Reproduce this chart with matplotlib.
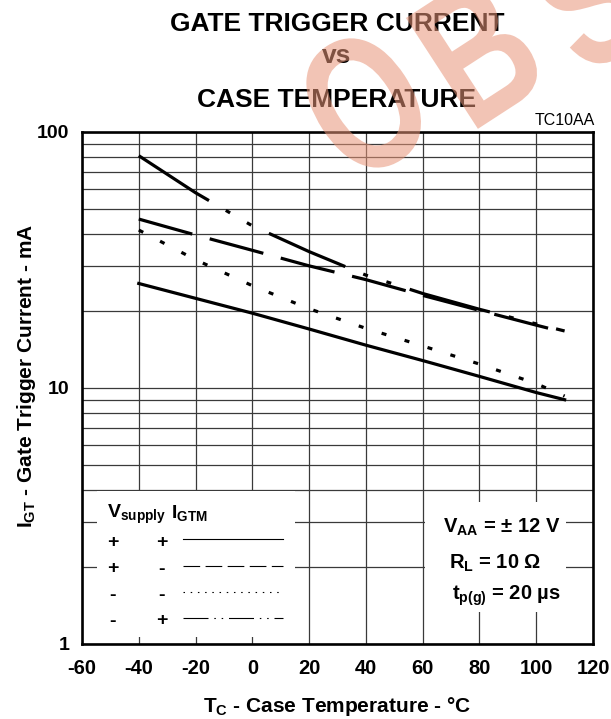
import matplotlib
matplotlib.use('Agg')
import matplotlib.pyplot as plt
from matplotlib.lines import Line2D
from matplotlib.patches import Rectangle, PathPatch
from matplotlib.textpath import TextPath
from matplotlib.font_manager import FontProperties
from matplotlib.transforms import Affine2D

plt.rcParams['font.family'] = ['Liberation Sans', 'DejaVu Sans']
plt.rcParams['mathtext.fontset'] = 'custom'
plt.rcParams['mathtext.rm'] = 'Liberation Sans:bold'
plt.rcParams['mathtext.it'] = 'Liberation Sans:bold'
plt.rcParams['mathtext.bf'] = 'Liberation Sans:bold'
plt.rcParams['lines.scale_dashes'] = False

# case temperature (degC) and gate trigger current (mA)
temp = [-40, -20, 0, 20, 40, 60, 80, 100, 110]
igt_pp = [25.6, 22.4, 19.6, 17.0, 14.7, 12.8, 11.1, 9.6, 9.0]    # Vsupply +, IGTM +
igt_pm = [45.7, 39.6, 34.5, 30.0, 26.5, 23.0, 20.1, 17.6, 16.5]  # Vsupply +, IGTM -
igt_mm = [41.4, 31.7, 25.1, 20.4, 17.1, 14.6, 12.4, 10.4, 9.3]   # Vsupply -, IGTM -
igt_mp = [80.8, 57.9, 43.0, 34.1, 27.6, 23.4, 20.3, 17.8, 16.7]  # Vsupply -, IGTM +

xticks = [-60, -40, -20, 0, 20, 40, 60, 80, 100, 120]
yticks = [1, 10, 100]
legend_signs = [('+', '+'), ('+', '-'), ('-', '-'), ('-', '+')]
conditions = [r'$\mathrm{V_{AA}}$ = ± 12 V', r'$\mathrm{R_L}$ = 10 Ω', r'$\mathrm{t_{p(g)}}$ = 20 µs']

W, H = 611, 719
fig = plt.figure(figsize=(W / 100, H / 100), dpi=100)
ax = fig.add_axes([82 / W, 1 - 644 / H, 511 / W, 512 / H])


def fx(px):
    return (px - 82) / 511


def fy(py):
    return (644 - py) / 512


styles = [
    dict(linestyle='-'),
    dict(linestyle=(0, (40, 13))),
    dict(linestyle=(0, (3.6, 13.7))),
    dict(linestyle=(0, (60, 14, 3.6, 14, 3.6, 14))),
]
for ys, st in zip([igt_pp, igt_pm, igt_mm, igt_mp], styles):
    ax.plot(temp, ys, color='black', lw=2.3, zorder=4, **st)

ax.set_yscale('log')
ax.set_xlim(-60, 120)
ax.set_ylim(1, 100)
ax.set_xticks(xticks)
ax.set_xticklabels([str(t) for t in xticks])
ax.set_yticks(yticks)
ax.set_yticklabels([str(t) for t in yticks])
ax.yaxis.set_minor_formatter(plt.NullFormatter())
ax.tick_params(which='both', length=0)
ax.tick_params(axis='x', pad=11, labelsize=14.5)
ax.tick_params(axis='y', pad=9, labelsize=14)
for lab in ax.get_xticklabels() + ax.get_yticklabels():
    lab.set_fontweight('bold')
ax.grid(True, which='both', color='#3a3a3a', lw=0.9)
ax.set_axisbelow(True)
for s in ax.spines.values():
    s.set_linewidth(1.9)

# white boxes behind the legend and the conditions
ax.add_patch(Rectangle((fx(97), fy(637)), fx(295) - fx(97), fy(491) - fy(637),
                       transform=ax.transAxes, facecolor='white', edgecolor='none', zorder=2))
ax.add_patch(Rectangle((fx(425), fy(612)), fx(566) - fx(425), fy(502) - fy(612),
                       transform=ax.transAxes, facecolor='white', edgecolor='none', zorder=2))

# legend table
ax.text(fx(107), fy(518), r'$\mathrm{V_{supply}}$', transform=ax.transAxes,
        fontsize=14, ha='left', va='baseline', zorder=5)
ax.text(fx(171), fy(518), r'$\mathrm{I_{GTM}}$', transform=ax.transAxes,
        fontsize=14, ha='left', va='baseline', zorder=5)
rows = [542, 569, 595, 621]
for (s1, s2), ry, st in zip(legend_signs, rows, styles):
    ax.text(fx(113), fy(ry), s1, transform=ax.transAxes, fontsize=14, fontweight='bold',
            ha='center', va='center', zorder=5)
    ax.text(fx(162), fy(ry), s2, transform=ax.transAxes, fontsize=14, fontweight='bold',
            ha='center', va='center', zorder=5)
    ls = st['linestyle']
    if ls != '-':
        ls = (0, tuple(v * 0.3 for v in ls[1]))
    ax.add_line(Line2D([fx(183), fx(283)], [fy(ry - 3), fy(ry - 3)], transform=ax.transAxes,
                       color='black', lw=0.8, linestyle=ls, zorder=5))

# test conditions
for txt, (cx, cy) in zip(conditions, [(443, 533), (449, 569), (452, 600)]):
    ax.text(fx(cx), fy(cy), txt, transform=ax.transAxes, fontsize=14.5, fontweight='bold',
            ha='left', va='baseline', zorder=5)

# titles and labels
for txt, by in [('GATE TRIGGER CURRENT', 31), ('vs', 63), ('CASE TEMPERATURE', 107)]:
    fig.text(337 / W, 1 - by / H, txt, fontsize=19, fontweight='bold',
             ha='center', va='baseline')
fig.text(595 / W, 1 - 125 / H, 'TC10AA', fontsize=11.5, ha='right', va='baseline')
fig.text(337 / W, 1 - 712 / H, r'$\mathrm{T_C}$ - Case Temperature - °C', fontsize=15,
         fontweight='bold', ha='center', va='baseline')
fig.text(27 / W, 1 - 376 / H, r'$\mathrm{I_{GT}}$ - Gate Trigger Current - mA', fontsize=15,
         fontweight='bold', ha='center', va='center', rotation=90)

# "OBS" stamp across the top, one letter at a time
fp = FontProperties(family='Liberation Sans', weight='bold')
o_box = TextPath((0, 0), 'O', size=100, prop=fp).get_extents()
sx, sy = 98 / o_box.width, 136 / o_box.height
for letter, (cx, cy) in zip('OBS', [(364, 103), (478, 50), (588, -2)]):
    p = TextPath((0, 0), letter, size=100, prop=fp)
    b = p.get_extents()
    tr = (Affine2D()
          .translate(-(b.x0 + b.width / 2), -(b.y0 + b.height / 2))
          .scale(sx, sy)
          .rotate_deg(33)
          .translate(cx, H - cy))
    fig.add_artist(PathPatch(p, transform=tr, facecolor=(0.91, 0.58, 0.47),
                             edgecolor='none', alpha=0.55, zorder=20))

fig.savefig('out.png', dpi=100, facecolor='white')
